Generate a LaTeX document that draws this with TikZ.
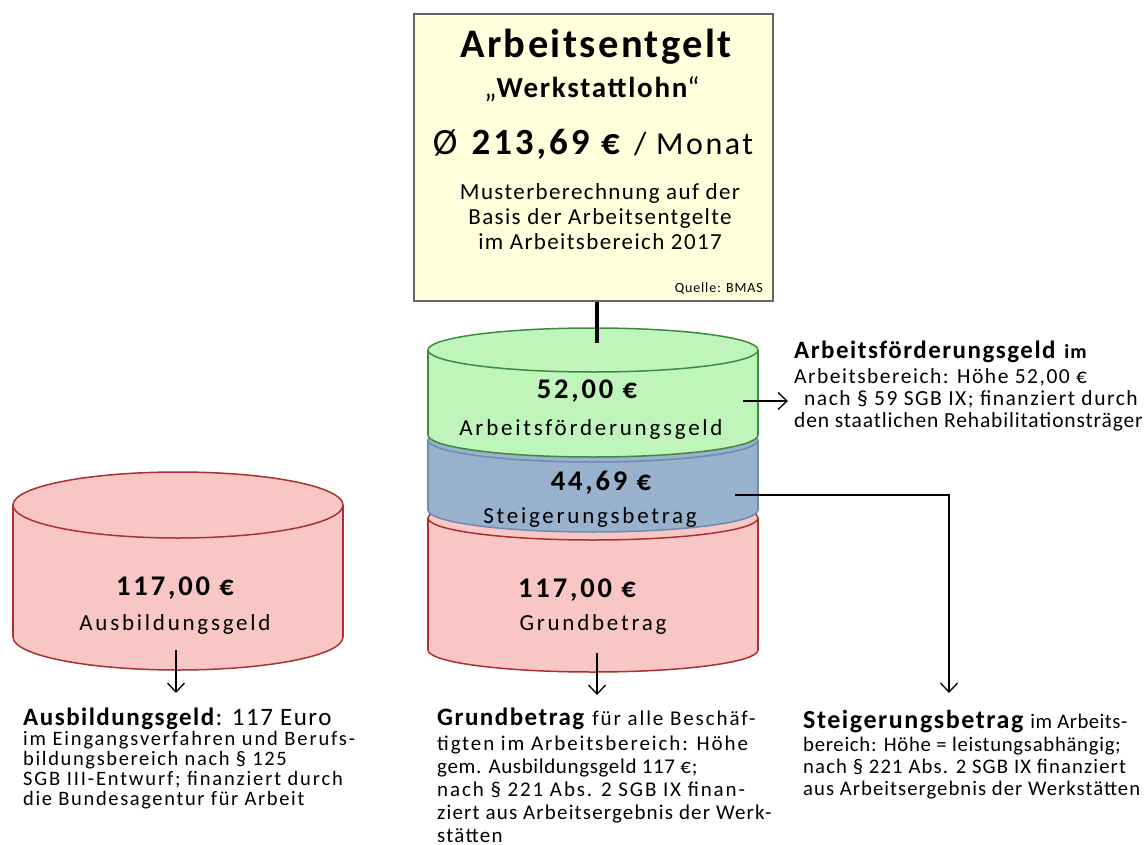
\documentclass[tikz,border=0pt]{standalone}
\usepackage{fontspec}
\setmainfont{Carlito}[LetterSpace=6]
\usetikzlibrary{arrows.meta}
\definecolor{yfill}{HTML}{FFFFDC}
\definecolor{yline}{HTML}{666666}
\definecolor{gfill}{HTML}{BFF5BA}
\definecolor{gline}{HTML}{3C8C3C}
\definecolor{bfill}{HTML}{98B1CC}
\definecolor{bline}{HTML}{6C8CB0}
\definecolor{rfill}{HTML}{F9C6C6}
\definecolor{rline}{HTML}{A83232}
\newcommand{\mycyl}[7]{%
  \fill[#6] (#1-#2,#3) rectangle (#1+#2,#4);
  \fill[#6] (#1,#3) ellipse [x radius=#2, y radius=#5];
  \fill[#6] (#1,#4) ellipse [x radius=#2, y radius=#5];
  \draw[#7, line width=1.5pt] (#1,#3) ellipse [x radius=#2, y radius=#5];
  \draw[#7, line width=1.5pt] (#1-#2,#3) -- (#1-#2,#4);
  \draw[#7, line width=1.5pt] (#1+#2,#3) -- (#1+#2,#4);
  \begin{scope}
    \clip (#1-#2-5,#4) rectangle (#1+#2+5,#4+#5+5);
    \draw[#7, line width=1.5pt] (#1,#4) ellipse [x radius=#2, y radius=#5];
  \end{scope}}
\newcommand{\ls}[2]{{\addfontfeatures{LetterSpace=#1}#2}}
\tikzset{
  arr/.style={line width=1.3pt, -{Straight Barb[length=9pt,width=17pt,line width=1.3pt]}},
  txt/.style={inner sep=0pt, anchor=base west, align=left},
  cval/.style={inner sep=0pt, anchor=base, font=\fontsize{28.5}{28.5}\selectfont\bfseries\addfontfeatures{LetterSpace=10}},
  cname/.style={inner sep=0pt, anchor=base, font=\fontsize{23}{23}\selectfont\addfontfeatures{LetterSpace=12}},
}
\begin{document}
\begin{tikzpicture}[x=1pt,y=-1pt]
\useasboundingbox[fill=white] (0,0) rectangle (1145,845);

% top box
\node[draw=yline, fill=yfill, line width=2pt, minimum width=359pt, minimum height=287pt, inner sep=0pt, anchor=north west] (box) at (413,13) {};
\node[inner sep=0pt, anchor=base, font=\fontsize{40.5}{40}\selectfont\bfseries] (t1) at (596,58) {Arbeitsentgelt};
\node[inner sep=0pt, anchor=base, font=\fontsize{29}{29}\selectfont\bfseries] (t2) at (592,98) {{\mdseries„}Werkstattlohn{\mdseries“}};
\node[inner sep=0pt, anchor=base, font=\fontsize{37}{37}\selectfont\addfontfeatures{LetterSpace=8}] (t3) at (593,155) {Ø \textbf{213,69 €} {\fontsize{32}{32}\selectfont / Monat}};
\node[inner sep=0pt, anchor=base, align=center, font=\fontsize{23}{25}\selectfont] (t4) at (600,249) {Musterberechnung auf der\\Basis der Arbeitsentgelte\\im Arbeitsbereich 2017};
\node[inner sep=0pt, anchor=base east, font=\fontsize{14}{14}\selectfont] (t5) at (763,292) {Quelle: BMAS};

% cylinders (bottom to top)
\mycyl{178}{165}{505}{637}{33}{rfill}{rline}
\mycyl{593}{165}{518}{650}{22}{rfill}{rline}
\mycyl{593}{165}{440}{510}{22}{bfill}{bline}
\mycyl{593}{165}{350}{435}{22}{gfill}{gline}

\coordinate (gtop) at (597,343);
\draw[line width=4pt] (box.south -| gtop) -- (gtop);

% cylinder texts
\node[cval] (av) at (175,595) {117,00 €};
\node[cname] (an) at (175,630) {Ausbildungsgeld};
\node[cval] (gv) at (587,398) {52,00 €};
\node[cname] (gn) at (591,435) {Arbeitsförderungsgeld};
\node[cval] (bv) at (601,490) {44,69 €};
\node[cname] (bn) at (590,523) {Steigerungsbetrag};
\node[cval] (rv) at (577,597) {117,00 €};
\node[cname] (rn) at (593,630) {Grundbetrag};

% connectors
\coordinate (a1) at (176,650);
\coordinate (a2) at (176,693);
\draw[arr] (a1) -- (a2);
\coordinate (m1) at (597,653);
\coordinate (m2) at (597,695);
\draw[arr] (m1) -- (m2);
\coordinate (f1) at (743,401);
\coordinate (f2) at (788,401);
\draw[arr] (f1) -- (f2);
\coordinate (s1) at (735,495);
\coordinate (s2) at (949,693);
\draw[arr] (s1) -| (s2);

% description texts
\node[txt, font=\fontsize{20.5}{22}\selectfont\addfontfeatures{LetterSpace=9}] (dl) at (23,805) {{\fontsize{25}{25}\selectfont\addfontfeatures{LetterSpace=6}\textbf{Ausbildungsgeld}: 117 Euro}\\[-2pt]
im Eingangsverfahren und Berufs-\\[-2pt]
\ls{8}{bildungsbereich nach § 125}\\[-2pt]
SGB III-Entwurf; finanziert durch\\[-2pt]
\ls{8}{die Bundesagentur für Arbeit}};
\node[txt, font=\fontsize{21}{23}\selectfont\addfontfeatures{LetterSpace=9}] (dm) at (437,842) {{\fontsize{25}{25}\selectfont\addfontfeatures{LetterSpace=6}\textbf{Grundbetrag}} für alle Beschäf-\\[2pt]
tigten im Arbeitsbereich: Höhe\\
\ls{3}{gem. Ausbildungsgeld 117 €;}\\
nach § 221 Abs. 2 SGB IX finan-\\
\ls{5.5}{ziert aus Arbeitsergebnis der Werk-}\\
\ls{6}{stätten}};
\node[txt, font=\fontsize{20.7}{22}\selectfont\addfontfeatures{LetterSpace=3.5}] (dr) at (803,795) {{\fontsize{26}{26}\selectfont\addfontfeatures{LetterSpace=6}\textbf{Steigerungsbetrag}} \ls{2.5}{im Arbeits-}\\[1pt]
bereich: Höhe = leistungsabhängig;\\
\ls{5.5}{nach § 221 Abs. 2 SGB IX finanziert}\\
\ls{5}{aus Arbeitsergebnis der Werkstätten}};
\node[txt, font=\fontsize{21.5}{22}\selectfont\addfontfeatures{LetterSpace=7}] (dt) at (794,427) {{\fontsize{25}{25}\selectfont\addfontfeatures{LetterSpace=6}\textbf{Arbeitsförderungsgeld} \textbf{\fontsize{20}{20}\selectfont im}}\\[3pt]
Arbeitsbereich: Höhe 52,00 €\\
\hspace*{10pt}\ls{7}{nach § 59 SGB IX; finanziert durch}\\
\ls{4}{den staatlichen Rehabilitationsträger}};
\end{tikzpicture}
\end{document}
